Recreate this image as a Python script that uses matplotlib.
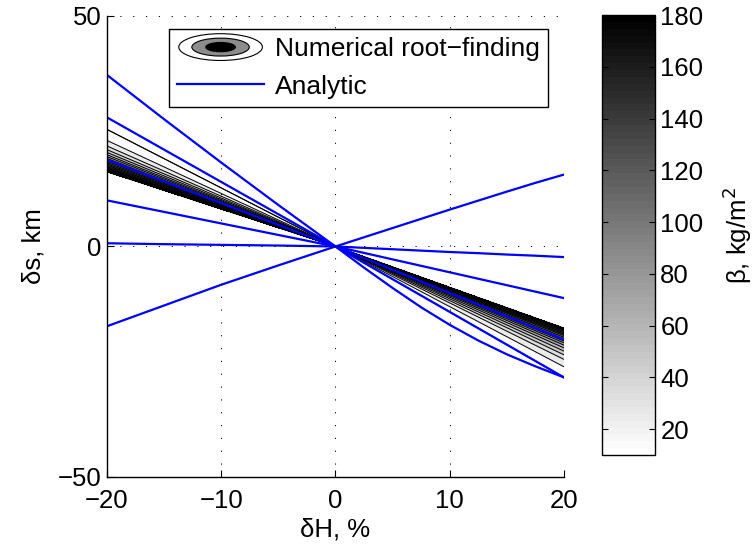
import numpy as np
import matplotlib
matplotlib.use('Agg')
import matplotlib.pyplot as plt
from matplotlib.colors import ListedColormap, Normalize
from matplotlib.cm import ScalarMappable
from matplotlib.patches import Ellipse, Patch
from matplotlib.legend_handler import HandlerBase
from matplotlib.lines import Line2D

plt.rcParams['font.family'] = ['Liberation Sans', 'DejaVu Sans']
FS = 18.5

# numerical root-finding: delta s (km) at dH = -20 and +20 % for each beta level
beta_levels = [10, 20, 30, 40, 50, 60, 70, 80, 90, 100, 110, 120, 130, 140, 150, 160, 170, 180]
ds_left = [25.4, 23.0, 21.8, 21.0, 20.4, 19.9, 19.5, 19.1, 18.8, 18.5, 18.2, 17.9, 17.6, 17.3, 17.0, 16.8, 16.5, 16.2]
ds_right = [-28.4, -26.1, -24.5, -23.5, -22.7, -22.0, -21.4, -20.9, -20.5, -20.1, -19.7, -19.3, -19.0, -18.7, -18.4, -18.1, -17.9, -17.7]
grid_dH = [-20, 0, 20]

# analytic curves
dH = [-20, -15, -10, -5, 0, 2.5, 5, 7.5, 10, 12.5, 15, 17.5, 20]
analytic = [
    [37.2, 27.6, 18.2, 9.0, 0, -4.6, -9.0, -13.2, -17.0, -20.4, -23.4, -26.0, -28.4],
    [28.0, 21.0, 14.0, 7.0, 0, -3.55, -7.1, -10.65, -14.2, -17.75, -21.3, -24.85, -28.4],
    [18.8, 14.1, 9.4, 4.7, 0, -2.5, -5.05, -7.6, -10.1, -12.6, -15.15, -17.7, -20.2],
    [10.0, 7.5, 5.0, 2.5, 0, -1.4, -2.8, -4.2, -5.6, -7.0, -8.4, -9.8, -11.2],
    [0.7, 0.5, 0.35, 0.2, 0, -0.3, -0.6, -0.9, -1.2, -1.45, -1.75, -2.0, -2.3],
    [-17.3, -12.8, -8.3, -4.1, 0, 2.0, 4.0, 6.0, 8.0, 9.95, 11.9, 13.8, 15.6],
]

cmap = ListedColormap(plt.cm.gray_r(np.linspace(0, 1, 64)))
norm = Normalize(vmin=10, vmax=180)

fig = plt.figure(figsize=(7.55, 5.47), dpi=100)
ax = fig.add_axes([0.1417, 0.128, 0.6053, 0.8428])

nb = len(beta_levels)
X = np.tile(grid_dH, (nb, 1)).astype(float)
Y = np.column_stack([ds_left, np.zeros(nb), ds_right])
Z = np.tile(np.array(beta_levels, float)[:, None], (1, 3))

ax.contourf(X, Y, Z, levels=beta_levels, cmap=cmap, norm=norm)
ax.contour(X, Y, Z, levels=beta_levels, colors='k', linewidths=0.7)
for i in (0, nb - 1):
    ax.plot(X[i], Y[i], color='k', lw=0.7)

for curve in analytic:
    ax.plot(dH, curve, color='#0000ff', lw=1.6)

ax.set_xlim(-20, 20)
ax.set_ylim(-50, 50)
ax.set_xticks([-20, -10, 0, 10, 20])
ax.set_yticks([-50, 0, 50])
ax.set_xticklabels(['\u221220', '\u221210', '0', '10', '20'])
ax.set_yticklabels(['\u221250', '0', '50'])
ax.tick_params(direction='in', length=5, labelsize=FS, width=0.8)
ax.tick_params(axis='x', pad=9)
ax.tick_params(axis='y', pad=4)
for s in ('top', 'right'):
    ax.spines[s].set_visible(False)
for s in ('left', 'bottom'):
    ax.spines[s].set_linewidth(1.0)
ax.grid(True, color='k', linestyle=(0, (1.2, 12)), linewidth=0.7)
ax.set_axisbelow(False)
ax.set_xlabel('\u03b4H, %', fontsize=FS, labelpad=3)
ax.set_ylabel('\u03b4s, km', fontsize=FS, labelpad=9)


class EllipseHandler(HandlerBase):
    def create_artists(self, legend, orig_handle, xdescent, ydescent,
                       width, height, fontsize, trans):
        cx = width / 2 - xdescent
        cy = height / 2 - ydescent
        arts = []
        for fw, fh, fc in [(0.96, 1.45, 'white'), (0.66, 0.97, '0.55'), (0.34, 0.5, 'black')]:
            e = Ellipse((cx, cy), width * fw, height * fh, facecolor=fc,
                        edgecolor='black', lw=0.8, transform=trans)
            arts.append(e)
        return arts


proxy = Patch()
line_proxy = Line2D([], [], color='#0000ff', lw=1.6)
leg = ax.legend([proxy, line_proxy], ['Numerical root\u2212finding', 'Analytic'],
                handler_map={proxy: EllipseHandler()},
                loc='upper right', bbox_to_anchor=(0.965, 0.972), borderaxespad=0,
                fontsize=19, handlelength=3.3, handletextpad=0.4,
                fancybox=False, framealpha=1, edgecolor='k',
                borderpad=0.32, labelspacing=0.5)
leg.get_frame().set_linewidth(1.0)

cax = fig.add_axes([0.797, 0.168, 0.0702, 0.8044])
sm = ScalarMappable(norm=norm, cmap=cmap)
cb = fig.colorbar(sm, cax=cax, ticks=[20, 40, 60, 80, 100, 120, 140, 160, 180])
cb.outline.set_linewidth(1.0)
cax.tick_params(direction='in', length=4, labelsize=FS, left=True, right=True, width=0.8, pad=4)
cb.set_label('\u03b2, kg/m$^2$', fontsize=FS, labelpad=12)

fig.savefig('out.png', dpi=100)
